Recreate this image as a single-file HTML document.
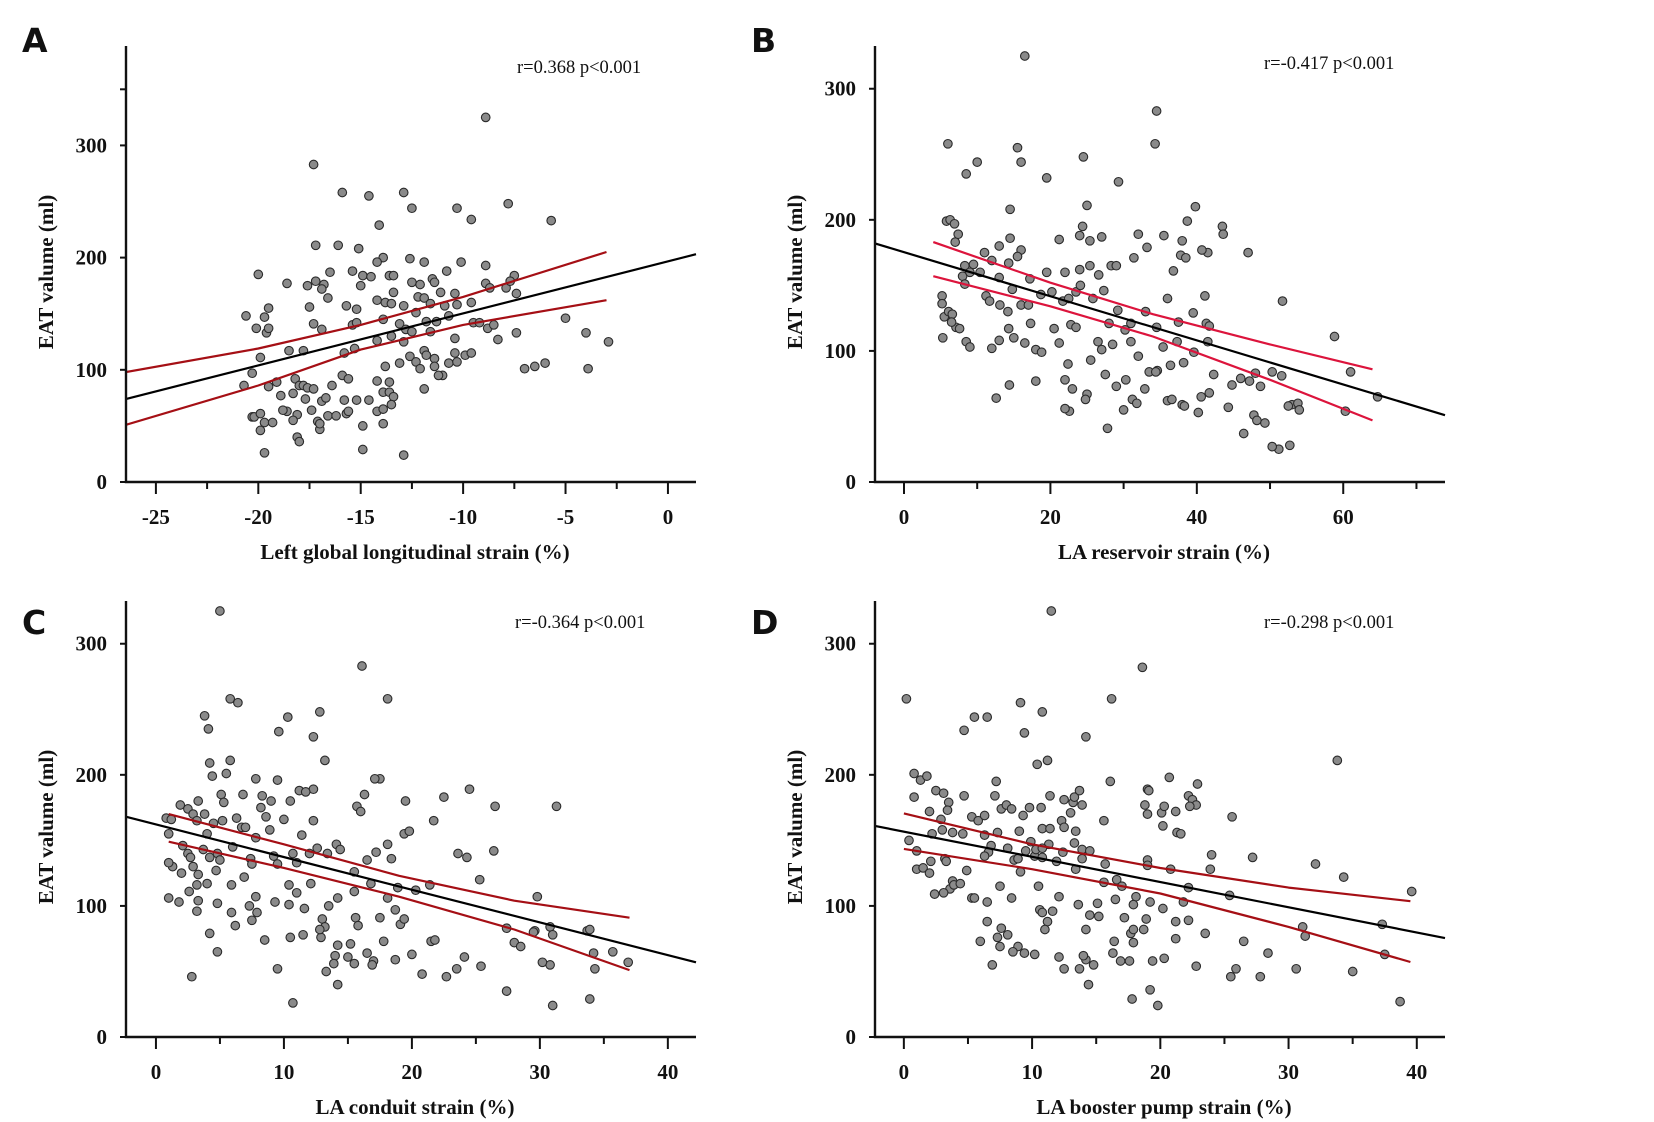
<!DOCTYPE html>
<html><head><meta charset="utf-8"><style>
html,body{margin:0;padding:0;background:#fff;}
svg{display:block;}
.tk{font-family:"Liberation Serif",serif;font-weight:bold;font-size:21px;fill:#111;}
.tt{font-family:"Liberation Serif",serif;font-weight:bold;font-size:21px;fill:#111;}
.st{font-family:"Liberation Serif",serif;font-size:18.5px;fill:#111;}
.lt{font-family:"DejaVu Sans","Liberation Sans",sans-serif;font-weight:bold;font-size:33px;fill:#111;}
</style></head><body>
<svg id="fig" width="1654" height="1122" viewBox="0 0 1654 1122" xmlns="http://www.w3.org/2000/svg"></svg>
<script>
// ---- Panel A data ----
const aX=[-8.9,-17.3,-15.9,-14.6,-12.9,-12.5,-10.3,-7.8,-9.6,-5.7,-14.1,-17.2,-16.1,-15.1,-13.9,-12.6,-14.2,-11.9,-10.1,-8.9,-20,-16.5,-15.4,-14.9,-14.5,-13.6,-13.4,-12.5,-11.5,-10.8,-7.5,-18.6,-17.6,-17.2,-16.8,-16.9,-15,-13.4,-11.4,-12.1,-11.1,-10.4,-8.9,-8.7,-7.9,-7.7,-7.4,-19.5,-19.7,-17.5,-16.6,-15.7,-15.2,-14.2,-13.8,-13.5,-12.9,-12.3,-12.2,-11.9,-11.6,-10.9,-10.3,-9.6,-20.6,-20.1,-19.6,-19.5,-17.3,-16.9,-15.4,-15.2,-13.9,-13.1,-12.8,-12.5,-11.6,-11.3,-11.8,-10.7,-9.5,-9.2,-8.8,-8.5,-8.3,-7.4,-5,-4,-2.9,-20.7,-19.9,-20.3,-18.5,-17.8,-15.8,-15.3,-14.2,-13.5,-13.1,-12.9,-12.6,-12.3,-12.1,-11.9,-11.8,-11.4,-11.4,-11,-10.7,-10.4,-10.3,-10.4,-9.9,-9.6,-7,-6.5,-6,-3.9,-19.5,-19.1,-18.9,-18.2,-18,-17.8,-17.6,-17.3,-16.9,-16.7,-16.4,-15.9,-15.6,-14.2,-13.9,-13.6,-13.4,-13.8,-13.6,-11.9,-11.2,-18.6,-18.8,-18.3,-18.1,-17.7,-17.4,-17.1,-16.6,-15.8,-15.2,-15.7,-15.6,-14.2,-13.9,-13.5,-16.2,-20.3,-20.2,-19.9,-19.7,-19.3,-19.9,-17,-18.3,-18.1,-18,-17,-14.9,-13.9,-19.7,-14.9,-12.9,-14.6];
const aY=[325,283,258,255,258,244,244,248,234,233,229,211,211,208,200,199,196,196,196,193,185,187,188,184,183,184,184,178,181,188,184,177,175,179,176,172,175,169,178,176,169,168,177,173,173,179,168,155,147,156,164,157,154,162,160,159,157,151,165,164,159,157,158,160,148,137,133,137,141,136,140,142,145,141,136,134,134,143,143,148,142,142,137,140,127,133,146,133,125,86,111,97,117,117,115,119,126,130,106,125,112,107,101,117,113,110,103,95,106,128,107,115,113,115,101,103,106,101,85,89,77,92,86,86,84,83,72,75,86,95,92,90,80,80,76,103,89,83,95,63,64,79,60,74,64,54,59,73,73,61,63,63,65,69,59,58,58,61,53,53,46,47,55,40,36,52,50,52,26,29,24,73];
const aFitX=[-26.46,1.37], aFitY=[74,203];
const aCiX=[-26.46,-20,-15,-10,-3], aCiUp=[98,119,140,165,205], aCiLo=[51,86,118,140,162];
const aXTicks=[-25,-20,-15,-10,-5,0], aXMinor=[-22.5,-17.5,-12.5,-7.5,-2.5], aYTicks=[0,100,200,300], aYMinor=[350];
// ---- Panel B data ----
const bX=[16.5,34.5,6,15.5,34.3,24.5,16,10,8.5,29.3,14.5,25,19.5,39.8,5.8,6.3,6.9,7,7.4,14.5,16,13,21.2,24,25.4,24.4,27,32,33.2,35.5,38,38.7,43.5,43.6,41.5,47,8.3,9.5,11,12,13,14.3,15.5,17.2,19.5,22,24,25.4,26.6,28.3,29,31.4,36.8,37.8,38.5,40.7,5.2,5.2,5.5,6.1,6.6,7.1,7.6,8,8.3,9,10.4,11.2,11.7,13.1,14.2,14.8,16,17,18.7,20.2,21.7,22.5,23.5,24.1,25.8,27.3,29.2,31,33,34.5,36,37.5,39.5,41.1,41.3,41.7,51.7,58.8,61,64.7,5.3,6.5,8.5,9,12,13,14.3,15,16.5,17.3,18,18.8,20.5,21.2,22.4,22.8,23.5,25.5,26.5,27,28,28.5,30.2,31,32,33.5,34.6,35.4,36.4,37.3,38.2,39.6,41.5,42.3,44.8,46,47.2,48,48.7,50.3,51.6,53,53.8,54,52.5,60.3,12.6,14.4,18,22,23,25,27.5,29,30.3,31.2,32.9,34.4,36,36.6,38,40.6,41.7,44.3,46.4,47.8,48.2,49.3,51.2,52.7,50.3,22.6,22,24.8,27.8,30,31.8,38.3,40.2];
const bY=[325,283,258,255,258,248,244,244,235,229,208,211,232,210,199,200,197,183,189,186,177,180,185,188,184,195,187,189,179,188,184,199,195,189,175,175,165,166,175,169,156,167,172,155,160,160,162,165,158,165,165,171,161,173,171,177,142,136,126,130,128,118,117,157,151,160,160,142,138,135,130,147,135,135,143,145,138,140,145,150,140,146,131,121,130,118,140,122,129,142,121,119,138,111,84,65,110,122,107,103,102,108,117,110,106,121,101,99,117,106,90,120,118,93,107,101,121,105,116,107,96,84,85,103,89,107,91,99,107,82,74,79,77,83,73,84,81,59,60,55,58,54,64,74,77,78,71,67,82,73,78,63,71,84,62,63,59,65,68,57,37,51,47,45,25,28,27,54,56,63,41,55,60,58,53];
const bFitX=[-3.96,73.9], bFitY=[182,51];
const bCiX=[4,20,34,50,64], bCiUp=[183,152,128,105,86], bCiLo=[157,134,111,78,47];
const bXTicks=[0,20,40,60], bXMinor=[10,30,50,70], bYTicks=[0,100,200,300], bYMinor=[];
// ---- Panel C data ----
const cX=[5,16.1,18.1,5.8,6.4,10.3,12.8,3.8,4.1,9.6,12.3,13.2,5.8,4.2,4.4,5.5,7.8,9.5,17.5,17.1,24.5,12.3,11.2,10.5,11.7,3.3,1.9,5.1,5.3,6.8,8.3,9,16.3,15.7,19.5,16,22.5,26.5,31.3,0.8,1.2,2.5,2.9,3.2,3.8,6.3,4.5,5.2,6.7,7,8.2,8.6,8.9,10,12.3,11.4,14.1,14.4,15.5,16.5,17.2,18.1,18.4,19.4,19.8,21.7,7.8,4,4.8,3.7,6,7.4,7.5,9.2,11,12.6,12,13.4,21.4,23.6,24.3,26.4,29.8,30.8,29.6,33.7,35.7,36.9,1,2,1.3,1,2.5,2.7,2.1,2.9,4.2,5,3.2,2.6,3.3,4,4.7,5.9,6.9,7.8,9.5,10.4,10.7,11,12.1,13.5,14.2,15.5,15.6,16.8,18.1,18.7,19.1,19.4,17.5,18.9,20.3,25.3,27.4,28,29.5,31,30.8,33.9,34.3,34.2,1,1.8,3.3,3.2,4.8,5.9,7.3,8.5,9.3,10.4,11.6,13,13.2,12.9,14,14.2,15,15.8,16.5,17,17.8,18.7,20,21.5,21.8,22.7,23.5,24.1,25.4,27.4,28.5,30.2,31,33.9,4.2,4.8,6.2,7.9,7.5,9.5,10.5,10.7,11.5,12.8,13.9,14.2,13.3,15.2,15.5,16.9,2.8,20.8];
const cY=[325,283,258,258,255,244,248,245,235,233,229,211,211,209,199,201,197,196,197,197,189,189,188,180,187,180,177,185,179,185,184,180,185,176,180,172,183,176,176,167,166,174,170,165,170,167,163,165,160,160,175,168,158,166,165,154,147,143,126,135,141,147,136,155,157,165,152,155,140,143,145,136,132,138,133,144,140,140,116,140,137,142,107,84,81,81,65,57,155,125,130,133,140,137,146,130,137,135,116,111,124,117,127,116,122,107,132,116,140,110,117,100,106,111,91,117,106,97,86,90,91,114,112,120,83,72,80,78,55,82,52,64,106,103,104,96,102,95,100,74,103,101,98,90,84,76,62,70,61,85,64,58,73,59,63,73,74,46,52,61,54,35,69,57,24,29,79,65,85,95,89,52,76,26,78,82,56,40,50,71,56,55,46,48];
const cFitX=[-2.34,42.2], cFitY=[168,57];
const cCiX=[1,10,19,28,37], cCiUp=[170,147,123,104,91], cCiLo=[149,129,107,82,51];
const cXTicks=[0,10,20,30,40], cXMinor=[5,15,25,35], cYTicks=[0,100,200,300], cYMinor=[];
// ---- Panel D data ----
const dX=[11.5,18.6,0.2,16.2,9.1,5.5,6.5,10.8,4.7,9.4,14.2,33.8,10.4,11.2,0.8,1.3,1.8,16.1,20.7,22.9,7.2,0.8,2.5,3.1,3.5,4.7,7.1,2,3.4,2.9,5.3,5.8,6.3,7.6,8,8.4,9.3,9.8,10.7,11.4,12.5,13.2,13.3,13.7,13.9,13,12.3,12.5,13.4,15.6,18.8,19,19.1,19,20.1,20.3,21.2,20.2,21.3,21.6,22.2,22.5,22.8,22.3,25.6,0.4,2.2,3,3.8,4.6,1,2.1,1,1.5,2,3.2,3.3,4.9,3.8,3.6,3.9,4.4,2.4,3.1,5.3,5.5,6.3,6.8,6.6,6.3,7.3,8.1,8.6,8.9,9,9.1,9.5,9.9,10.2,10.3,10.8,10.8,11.4,11.3,10.8,11.9,12.4,13.3,13.9,14.5,13.9,13.4,15.7,15.6,16.6,17,18.1,19,19,20.8,22.2,21.8,23.9,24,25.4,27.2,32.1,34.3,39.6,37.3,31.1,31.3,37.5,38.7,35,7.5,6.5,8.4,10.5,10.6,10.8,11.6,11.2,11,12.1,13.6,15.1,14.5,15.2,16.5,17.2,17.9,18.9,19.2,20.2,21.2,22.2,23.5,14.2,17.7,17.9,18.7,17.9,16.4,21.2,26.5,28.4,30.6,25.5,25.9,27.8,22.8,20.3,19.4,17.6,16.9,16.3,14.8,14.2,14,13.7,12.5,12.1,14.4,17.8,19.2,19.8,10.2,9.4,8.9,8.5,8.1,7.6,7.3,7.5,6.5,5.96,6.9];
const dY=[325,282,258,258,255,244,244,248,234,232,229,211,208,211,201,196,199,195,198,193,195,183,188,186,179,184,184,172,173,166,168,165,169,174,177,174,169,175,175,184,181,179,183,188,177,171,165,160,157,165,177,189,188,170,171,176,172,161,156,155,184,181,177,176,168,150,155,158,156,155,142,134,128,129,125,136,134,127,119,113,116,117,109,110,106,106,154,146,141,138,156,144,135,136,157,126,142,149,138,143,137,159,159,147,144,134,141,148,143,142,136,128,132,118,120,115,107,135,131,128,114,103,128,139,108,137,132,122,111,86,84,77,63,27,50,115,103,106,115,97,95,96,88,82,107,101,102,93,92,105,91,101,90,103,98,88,89,79,82,79,82,82,72,73,75,73,64,52,46,52,46,54,60,58,58,58,64,55,59,62,52,52,61,40,29,36,24,63,64,69,65,78,83,76,69,88,73,55];
const dFitX=[-2.25,42.2], dFitY=[161,75.5];
const dCiX=[0,10,20,30,39.5], dCiUp=[170.6,147,128.9,114,103.6], dCiLo=[143.5,128,109.5,84,57.2];
const dXTicks=[0,10,20,30,40], dXMinor=[5,15,25,35], dYTicks=[0,100,200,300], dYMinor=[];

const NS="http://www.w3.org/2000/svg";
const svg=document.getElementById('fig');
function mk(tag,parent){const e=document.createElementNS(NS,tag);parent.appendChild(e);return e;}

const panels=[
 {id:'a',letter:'A',L:126,R:696,T:46,B:482,x0:-26.46,x1:1.37,y1:388.6,xs:aX,ys:aY,fx:aFitX,fy:aFitY,cx:aCiX,cu:aCiUp,cl:aCiLo,xt:aXTicks,xm:aXMinor,yt:aYTicks,ym:aYMinor,xtitle:'Left global longitudinal strain (%)',stat:'r=0.368 p<0.001',sx:517,sy:73,lx:22,ly:52,ci:'#a50f15'},
 {id:'b',letter:'B',L:875,R:1445,T:46,B:482,x0:-3.96,x1:73.9,y1:332.6,xs:bX,ys:bY,fx:bFitX,fy:bFitY,cx:bCiX,cu:bCiUp,cl:bCiLo,xt:bXTicks,xm:bXMinor,yt:bYTicks,ym:bYMinor,xtitle:'LA reservoir strain (%)',stat:'r=-0.417 p<0.001',sx:1264,sy:69,lx:751,ly:52,ci:'#dc143c'},
 {id:'c',letter:'C',L:126,R:696,T:601,B:1037,x0:-2.34,x1:42.2,y1:332.6,xs:cX,ys:cY,fx:cFitX,fy:cFitY,cx:cCiX,cu:cCiUp,cl:cCiLo,xt:cXTicks,xm:cXMinor,yt:cYTicks,ym:cYMinor,xtitle:'LA conduit strain (%)',stat:'r=-0.364 p<0.001',sx:515,sy:628,lx:22,ly:634,ci:'#a50f15'},
 {id:'d',letter:'D',L:875,R:1445,T:601,B:1037,x0:-2.25,x1:42.2,y1:332.6,xs:dX,ys:dY,fx:dFitX,fy:dFitY,cx:dCiX,cu:dCiUp,cl:dCiLo,xt:dXTicks,xm:dXMinor,yt:dYTicks,ym:dYMinor,xtitle:'LA booster pump strain (%)',stat:'r=-0.298 p<0.001',sx:1264,sy:628,lx:751,ly:634,ci:'#a50f15'}
];

panels.forEach(p=>{
 const sxf=v=>p.L+(v-p.x0)/(p.x1-p.x0)*(p.R-p.L);
 const syf=v=>p.B-v/p.y1*(p.B-p.T);
 const g=mk('g',svg);
 
 
 const lt=mk('text',g);lt.setAttribute('class','lt');lt.setAttribute('x',p.lx);lt.setAttribute('y',p.ly);lt.textContent=p.letter;
 
 
 const pg=mk('g',g);
 
 
 p.xs.forEach((xv,i)=>{const c=mk('circle',pg);c.setAttribute('cx',sxf(xv).toFixed(1));c.setAttribute('cy',syf(p.ys[i]).toFixed(1));c.setAttribute('r',4.3);c.setAttribute('fill','#8a8a8a');c.setAttribute('stroke','#2a2a2a');c.setAttribute('stroke-width',1.1);
  
  });
 [[p.cu,'ci-upper-'+p.id],[p.cl,'ci-lower-'+p.id]].forEach(([arr,nm])=>{
  const pl=mk('polyline',g);pl.setAttribute('points',p.cx.map((xv,i)=>sxf(xv).toFixed(1)+','+syf(arr[i]).toFixed(1)).join(' '));
  pl.setAttribute('fill','none');pl.setAttribute('stroke',p.ci);pl.setAttribute('stroke-width',2.2);pl.setAttribute('stroke-linejoin','round');
  
  
 });
 const fl=mk('line',g);fl.setAttribute('x1',sxf(p.fx[0]));fl.setAttribute('y1',syf(p.fy[0]));fl.setAttribute('x2',sxf(p.fx[1]));fl.setAttribute('y2',syf(p.fy[1]));fl.setAttribute('stroke','#000');fl.setAttribute('stroke-width',2.2);
 
 
 const ax=mk('path',g);ax.setAttribute('d',`M${p.L},${p.T} V${p.B} H${p.R}`);ax.setAttribute('fill','none');ax.setAttribute('stroke','#111');ax.setAttribute('stroke-width',2.4);
 
 
 p.xt.forEach(v=>{const x=sxf(v);const t=mk('line',g);t.setAttribute('x1',x);t.setAttribute('x2',x);t.setAttribute('y1',p.B);t.setAttribute('y2',p.B+12);t.setAttribute('stroke','#111');t.setAttribute('stroke-width',2);
  
  
  const l=mk('text',g);l.setAttribute('class','tk');l.setAttribute('x',x);l.setAttribute('y',p.B+42);l.setAttribute('text-anchor','middle');l.textContent=v;
  
  });
 p.xm.forEach(v=>{const x=sxf(v);const t=mk('line',g);t.setAttribute('x1',x);t.setAttribute('x2',x);t.setAttribute('y1',p.B);t.setAttribute('y2',p.B+7);t.setAttribute('stroke','#111');t.setAttribute('stroke-width',2);
  
  });
 p.yt.forEach(v=>{const y=syf(v);const t=mk('line',g);t.setAttribute('x1',p.L-6);t.setAttribute('x2',p.L);t.setAttribute('y1',y);t.setAttribute('y2',y);t.setAttribute('stroke','#111');t.setAttribute('stroke-width',2);
  
  
  const l=mk('text',g);l.setAttribute('class','tk');l.setAttribute('x',p.L-19);l.setAttribute('y',y+7);l.setAttribute('text-anchor','end');l.textContent=v;
  
  });
 p.ym.forEach(v=>{const y=syf(v);const t=mk('line',g);t.setAttribute('x1',p.L-6);t.setAttribute('x2',p.L);t.setAttribute('y1',y);t.setAttribute('y2',y);t.setAttribute('stroke','#111');t.setAttribute('stroke-width',2);
  
  });
 const xt=mk('text',g);xt.setAttribute('class','tt');xt.setAttribute('x',(p.L+p.R)/2+4);xt.setAttribute('y',p.B+77);xt.setAttribute('text-anchor','middle');xt.textContent=p.xtitle;
 
 
 const yc=(p.T+p.B)/2;const yt=mk('text',g);yt.setAttribute('class','tt');yt.setAttribute('transform',`translate(${p.L-73},${yc+8}) rotate(-90)`);yt.setAttribute('text-anchor','middle');yt.textContent='EAT valume (ml)';
 
 
 const st=mk('text',g);st.setAttribute('class','st');st.setAttribute('x',p.sx);st.setAttribute('y',p.sy);st.textContent=p.stat;
 
 
});
</script>
</body></html>
